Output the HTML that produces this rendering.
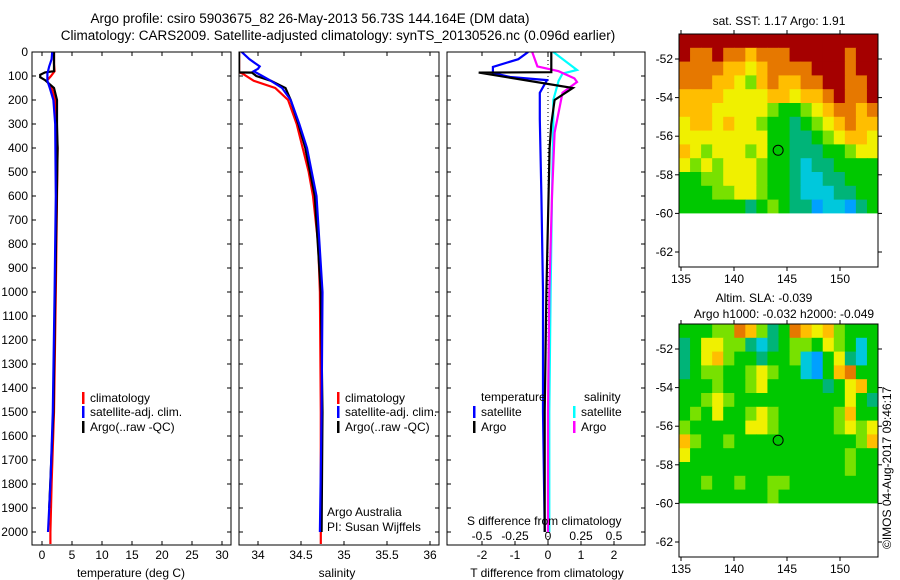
<!DOCTYPE html>
<html><head><meta charset="utf-8"><style>
body{margin:0;background:#fff}
svg{display:block;font-family:"Liberation Sans",sans-serif;font-size:12px}
</style></head><body>
<svg id="c" width="900" height="580" xmlns="http://www.w3.org/2000/svg">
<text x="310" y="23" text-anchor="middle" font-size="13.5">Argo profile: csiro 5903675_82 26-May-2013 56.73S 144.164E (DM data)</text>
<text x="338" y="40" text-anchor="middle" font-size="13.5">Climatology: CARS2009. Satellite-adjusted climatology: synTS_20130526.nc (0.096d earlier)</text>
<g id="g"></g>
</svg>
<script>
// ---- data ----
const depthTicks=[0,100,200,300,400,500,600,700,800,900,1000,1100,1200,1300,1400,1500,1600,1700,1800,1900,2000];
const tTicks=[0,5,10,15,20,25,30];
const sTicks=[34,34.5,35,35.5,36];
const sTickLabels=["34","34.5","35","35.5","36"];
const tdTicks=[-2,-1,0,1,2];
const sdTicks=[-0.5,-0.25,0,0.25,0.5];
const sdTickLabels=["-0.5","-0.25","0","0.25","0.5"];
const tClimDepth=[0,50,80,100,120,150,200,300,400,600,1000,1500,1800,2000,2050];
const tClim=[2.0,2.0,2.1,1.5,0.8,1.6,2.2,2.4,2.6,2.5,2.3,2.0,1.6,1.4,1.4];
const tArgoDepth=[0,80,85,95,105,117,150,200,300,400,1000,1500,1900];
const tArgo=[2.0,2.0,0.5,-0.3,-0.3,0.5,2.0,2.5,2.5,2.6,2.2,1.9,1.2];
const tSatDepth=[0,30,60,90,120,150,200,300,600,1000,1500,1800,2000];
const tSat=[1.7,1.6,1.2,0.9,0.9,1.3,1.9,2.2,2.3,2.1,1.8,1.4,1.0];
const sClimDepth=[0,85,90,120,150,200,300,400,500,600,800,1000,1500,2050];
const sClim=[33.78,33.78,33.82,33.95,34.2,34.35,34.45,34.52,34.59,34.64,34.7,34.72,34.73,34.73];
const sArgoDepth=[0,85,86,100,120,150,200,300,400,600,1000,1500,2000];
const sArgo=[33.78,33.78,33.93,33.98,34.15,34.32,34.38,34.47,34.55,34.66,34.73,34.75,34.74];
const sSatDepth=[0,30,60,70,80,100,120,150,200,300,400,600,1000,1500,2000];
const sSat=[33.81,33.9,34.02,34.0,33.95,34.05,34.15,34.28,34.38,34.48,34.57,34.68,34.75,34.74,34.72];
const dTSatDepth=[0,30,62,87,104,117,170,280,600,1000,1500,2000];
const dTSat=[-0.6,-0.9,-1.67,-1.67,-1.15,-0.03,-0.25,-0.25,-0.2,-0.15,-0.15,-0.1];
const dTArgoDepth=[0,60,84,86,150,200,300,400,1000,1500,2000];
const dTArgo=[0.1,0.1,0.1,-2.1,0.75,0.2,0.1,0.05,-0.05,-0.1,-0.1];
const dSArgoDepth=[0,60,80,110,125,170,336,600,1000,1500,2000];
const dSArgo=[-0.12,-0.08,0.08,0.2,0.22,0.11,0.05,0.03,0.01,0.0,0.0];
const dSSatDepth=[0,46,75,90,120,200,300,600,1000,1500,2000];
const dSSat=[0.04,0.15,0.22,0.11,0.08,0.04,0.04,0.03,0.02,0.01,0.01];
const lonTicks=[135,140,145,150];
const latTicks=[-52,-54,-56,-58,-60,-62];
const sstGrid=[
"999999999999999999","988988788899999899","888877678888999899","888776578778899889",
"777766667767789889","777666665445678878","677676654434567877","666666664433456776",
"765666564433344566","656566654432334444","445566654432233444","444556654432223344",
"444444345433122134"];
const slaGrid=[
"444558753487675444","346655323455465424","346754434452146324","345544565442147844",
"444544564444434674","445654444444444643","454644565444445744","544444665444445656",
"754454444444444457","644444444444444544","444444444444444544","445445445544444444",
"444444445444444444"];
const argoLon=144.164, argoLat=-56.73;

const NS="http://www.w3.org/2000/svg";
const G=document.getElementById('g');
function el(t,a,p){const e=document.createElementNS(NS,t);for(const k in a)e.setAttribute(k,a[k]);(p||G).appendChild(e);return e;}
function txt(x,y,s,anchor,p){const e=el('text',{x:x,y:y,'text-anchor':anchor||'start'},p);e.textContent=s;return e;}
const top0=52, bot=545;
const yD=d=>top0+d*0.24;
const panels=[{x0:32,x1:231},{x0:239,x1:439},{x0:447,x1:645}];
const xT=v=>42+v*6, xS=v=>258+(v-34)*86, xTD=v=>548+v*33, xSD=v=>548+v*132;

panels.forEach((p,i)=>{
  const cp=el('clipPath',{id:'cp'+i});el('rect',{x:p.x0,y:top0,width:p.x1-p.x0,height:bot-top0},cp);
});
function line(depths,vals,xf,color,name,ci,w){
  const pts=depths.map((d,i)=>xf(vals[i]).toFixed(1)+','+yD(d).toFixed(1)).join(' ');
  const e=el('polyline',{points:pts,fill:'none',stroke:color,'stroke-width':w||2.2,'clip-path':'url(#cp'+ci+')'});
  
  
}
depthTicks.forEach(d=>{const t=txt(28,yD(d)+4,String(d),'end');
  });
function xticks(ticks,xf,p,labels,ly){
  ticks.forEach((v,i)=>{const x=xf(v);
    el('line',{x1:x,x2:x,y1:top0,y2:top0+4,stroke:'#000'});
    el('line',{x1:x,x2:x,y1:bot,y2:bot-4,stroke:'#000'});
    if(labels){const t=txt(x,ly,labels[i],'middle');
      }
  });
}
panels.forEach((p,i)=>{
  depthTicks.forEach(d=>{const y=yD(d);
    el('line',{x1:p.x0,x2:p.x0+4,y1:y,y2:y,stroke:'#000'});
    el('line',{x1:p.x1,x2:p.x1-4,y1:y,y2:y,stroke:'#000'});});
});
xticks(tTicks,xT,panels[0],tTicks.map(String),559);
xticks(sTicks,xS,panels[1],sTickLabels,559);
xticks(tdTicks,xTD,panels[2],tdTicks.map(String),559);
sdTicks.forEach((v,i)=>{const t=txt(xSD(v),540,sdTickLabels[i],'middle');
  });
line(tClimDepth,tClim,xT,'#f00','temp-climatology-line',0);
line(tArgoDepth,tArgo,xT,'#000','temp-argo-line',0);
line(tSatDepth,tSat,xT,'#00f','temp-satellite-line',0);
line(sClimDepth,sClim,xS,'#f00','sal-climatology-line',1);
line(sArgoDepth,sArgo,xS,'#000','sal-argo-line',1);
line(sSatDepth,sSat,xS,'#00f','sal-satellite-line',1);
el('line',{x1:548,x2:548,y1:top0,y2:bot,stroke:'#000','stroke-dasharray':'1,3'});
line(dSSatDepth,dSSat,xSD,'#0ff','s-diff-satellite-line',2);
line(dSArgoDepth,dSArgo,xSD,'#f0f','s-diff-argo-line',2);
line(dTSatDepth,dTSat,xTD,'#00f','t-diff-satellite-line',2);
line(dTArgoDepth,dTArgo,xTD,'#000','t-diff-argo-line',2);
panels.forEach((p,i)=>{const r=el('rect',{x:p.x0,y:top0,width:p.x1-p.x0,height:bot-top0,fill:'none',stroke:'#000'});
  });
[[131,'temperature (deg C)'],[337,'salinity'],[547,'T difference from climatology']].forEach(a=>{
  const t=txt(a[0],577,a[1],'middle');});
function legend(x,y,color,label){
  el('rect',{x:x,y:y-10,width:2.5,height:12,fill:color});
  const t=txt(x+8,y,label);}
legend(82,402,'#f00','climatology');legend(82,416,'#00f','satellite-adj. clim.');legend(82,431,'#000','Argo(..raw -QC)');
legend(337,402,'#f00','climatology');legend(337,416,'#00f','satellite-adj. clim.');legend(337,431,'#000','Argo(..raw -QC)');
txt(481,401,'temperature');txt(584,401,'salinity');
legend(473,416,'#00f','satellite');legend(473,431,'#000','Argo');
legend(573,416,'#0ff','satellite');legend(573,431,'#f0f','Argo');
txt(327,516,'Argo Australia');txt(327,531,'PI: Susan Wijffels');
txt(467,525,'S difference from climatology');

function cmap(v){const c=[[0,80,255],[0,160,255],[0,200,220],[0,180,120],[0,200,0],[120,225,0],[240,240,0],[255,190,0],[230,120,0],[165,0,0]];const a=c[v];return 'rgb('+a.join(',')+')';}
function map(oy,grid,name){
  const x0=679,x1=878,y0=oy,yb=oy+233;
  const xL=l=>681+(l-135)*10.6, yL=l=>oy+25+(-52-l)*19.3;
  const cols=grid[0].length, rows=grid.length;
  const latTop=-52+25/19.3, lonL=135-2/10.6, lonR=135+(x1-681)/10.6;
  const cw=(lonR-lonL)/cols, rh=(latTop+60)/rows;
  grid.forEach((r,ri)=>{for(let ci=0;ci<cols;ci++){
    const xa=xL(lonL+ci*cw), ya=yL(latTop-ri*rh);
    const e=el('rect',{x:xa.toFixed(2),y:ya.toFixed(2),width:(cw*10.6+0.5).toFixed(2),height:(rh*19.3+0.5).toFixed(2),fill:cmap(+r[ci])});
    }});
  el('rect',{x:x0,y:yL(-60),width:x1-x0,height:yb-yL(-60),fill:'#fff'});
  const c=el('circle',{cx:xL(argoLon),cy:yL(argoLat),r:5,fill:'none',stroke:'#000'});
  
  const f=el('rect',{x:x0,y:y0,width:x1-x0,height:yb-y0,fill:'none',stroke:'#000'});
  
  latTicks.forEach(l=>{const y=yL(l);el('line',{x1:x0-4,x2:x0,y1:y,y2:y,stroke:'#000'});el('line',{x1:x1,x2:x1+4,y1:y,y2:y,stroke:'#000'});
    const t=txt(673,y+4,String(l),'end');});
  lonTicks.forEach(l=>{const x=xL(l);el('line',{x1:x,x2:x,y1:y0-4,y2:y0,stroke:'#000'});el('line',{x1:x,x2:x,y1:yb,y2:yb+4,stroke:'#000'});
    const t=txt(x,yb+16,String(l),'middle');});
}
map(34,sstGrid,'sst-map');
map(324,slaGrid,'sla-map');
txt(779,25,'sat. SST: 1.17 Argo: 1.91','middle');
txt(764,302,'Altim. SLA: -0.039','middle');
txt(784,318,'Argo h1000: -0.032 h2000: -0.049','middle');
const rt=txt(0,0,'©IMOS 04-Aug-2017 09:46:17','start');
rt.setAttribute('transform','translate(891,549) rotate(-90)');

</script>
</body></html>
